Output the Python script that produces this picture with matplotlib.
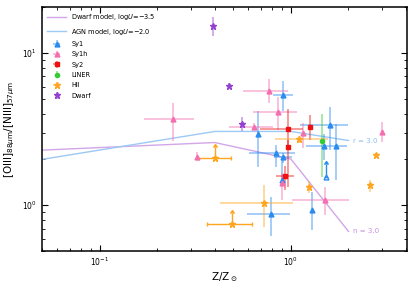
import numpy as np
import matplotlib
matplotlib.use('Agg')
import matplotlib.pyplot as plt

# model curves
model_z = [0.05, 0.4, 1.0, 2.0]
dwarf_model = [2.30, 2.58, 2.01, 0.674]
agn_model = [2.00, 3.05, 3.05, 2.66]

# Sy1
sy1_z = [0.91, 0.674, 0.832, 0.905, 0.90, 0.786, 1.29, 1.49, 1.73, 1.60]
sy1_z_lo = [0.805, 0.674, 0.603, 0.815, 0.90, 0.588, 1.29, 1.20, 1.73, 1.11]
sy1_z_hi = [1.02, 0.674, 1.05, 1.01, 0.90, 0.995, 1.29, 1.96, 1.73, 1.99]
sy1_r = [5.29, 2.93, 2.21, 2.06, 1.46, 0.882, 0.937, 2.44, 2.44, 3.36]
sy1_r_lo = [4.15, 1.78, 1.78, 1.90, 1.40, 0.625, 0.685, 1.98, 1.46, 2.30]
sy1_r_hi = [6.54, 4.15, 2.48, 2.20, 1.98, 1.13, 1.22, 2.93, 3.41, 4.41]
sy1_lim_z = [1.52]
sy1_lim_r = [1.54]

# Sy1h
sy1h_z = [0.241, 0.767, 0.855, 0.642, 1.16, 2.98, 0.90, 1.51, 0.322]
sy1h_z_lo = [0.170, 0.561, 0.633, 0.473, 1.16, 2.98, 0.90, 1.01, 0.322]
sy1h_z_hi = [0.311, 0.964, 1.075, 0.805, 1.16, 2.98, 0.90, 2.01, 0.322]
sy1h_r = [3.66, 5.65, 4.07, 3.27, 2.96, 3.04, 1.41, 1.08, 2.08]
sy1h_r_lo = [2.64, 4.69, 3.11, 3.10, 2.37, 2.60, 1.08, 0.86, 2.05]
sy1h_r_hi = [4.69, 6.75, 5.13, 3.45, 3.46, 3.52, 1.62, 1.31, 2.25]

# Sy2
sy2_z = [0.968, 1.26, 0.968, 0.93]
sy2_z_lo = [0.688, 1.26, 0.968, 0.835]
sy2_z_hi = [1.155, 1.26, 0.968, 1.037]
sy2_r = [3.16, 3.24, 2.40, 1.55]
sy2_r_lo = [2.30, 2.68, 1.31, 1.25]
sy2_r_hi = [4.28, 3.91, 2.68, 1.81]

# LINER
liner_z = [1.46]
liner_r = [2.65]
liner_r_lo = [1.53]
liner_r_hi = [3.97]

# HII
hii_z = [1.105, 2.79, 2.60, 1.24, 0.725]
hii_z_lo = [0.824, 2.79, 2.60, 1.24, 0.425]
hii_z_hi = [1.56, 2.79, 2.60, 1.24, 1.02]
hii_r = [2.71, 2.13, 1.35, 1.31, 1.04]
hii_r_lo = [2.55, 2.05, 1.22, 1.20, 0.717]
hii_r_hi = [2.85, 2.21, 1.46, 1.44, 1.35]
hii_lim_z = [0.493, 0.403]
hii_lim_z_lo = [0.363, 0.326]
hii_lim_z_hi = [0.625, 0.485]
hii_lim_r = [0.750, 2.03]

# Dwarf
dwarf_z = [0.391, 0.473, 0.554]
dwarf_r = [14.9, 6.07, 3.41]
dwarf_r_lo = [12.9, 5.85, 3.07]
dwarf_r_hi = [17.3, 6.30, 3.79]

c_sy1 = '#2b8cf0'
c_sy1h = '#f36fb0'
c_sy2 = '#ee1111'
c_liner = '#33cc33'
c_hii = '#ffa520'
c_dwarf = '#9440d0'


def err(v, lo, hi):
    v = np.array(v)
    return [v - np.array(lo), np.array(hi) - v]


fig = plt.figure(figsize=(4.15, 2.91), dpi=100)
ax = fig.add_axes([0.101, 0.137, 0.880, 0.839])

ax.plot(model_z, dwarf_model, color='#d2a6e8', lw=1.0, label=r'Dwarf model, log$U$=$-$3.5')
ax.plot(model_z, agn_model, color='#9cc9f5', lw=1.0, label=r'AGN model, log$U$=$-$2.0')

kw = dict(ls='none', elinewidth=1.2, capsize=0)

def draw(z, r, xe, ye, col, mk, ms, label):
    e = ax.errorbar(z, r, xerr=xe, yerr=ye, marker=mk, ms=ms, color=col, label=label, **kw)
    for b in e[2]:
        b.set_alpha(0.5)

draw(sy1_z, sy1_r, err(sy1_z, sy1_z_lo, sy1_z_hi), err(sy1_r, sy1_r_lo, sy1_r_hi), c_sy1, '^', 3.5, 'Sy1')
draw(sy1h_z, sy1h_r, err(sy1h_z, sy1h_z_lo, sy1h_z_hi), err(sy1h_r, sy1h_r_lo, sy1h_r_hi), c_sy1h, '^', 3.5, 'Sy1h')
draw(sy2_z, sy2_r, err(sy2_z, sy2_z_lo, sy2_z_hi), err(sy2_r, sy2_r_lo, sy2_r_hi), c_sy2, 's', 3, 'Sy2')
draw(liner_z, liner_r, None, err(liner_r, liner_r_lo, liner_r_hi), c_liner, 'o', 3, 'LINER')
draw(hii_z, hii_r, err(hii_z, hii_z_lo, hii_z_hi), err(hii_r, hii_r_lo, hii_r_hi), c_hii, '*', 4.5, 'HII')
draw(dwarf_z, dwarf_r, None, err(dwarf_r, dwarf_r_lo, dwarf_r_hi), c_dwarf, '*', 4.5, 'Dwarf')

# lower limits
lim = np.array(sy1_lim_r)
ax.errorbar(sy1_lim_z, sy1_lim_r, yerr=lim * 0.22, lolims=True, marker='^', ms=3.5,
            mfc='none', mec=c_sy1, color=c_sy1, ls='none', elinewidth=1.0, capsize=1.5)
lim = np.array(hii_lim_r)
ax.errorbar(hii_lim_z, hii_lim_r, xerr=err(hii_lim_z, hii_lim_z_lo, hii_lim_z_hi), yerr=lim * 0.18,
            lolims=True, marker='*', ms=4.5, color=c_hii, ls='none', elinewidth=1.0, capsize=1.5)

ax.text(2.1, 2.66, 'r = 3.0', color='#8fbfee', fontsize=5, va='center')
ax.text(2.1, 0.674, 'n = 3.0', color='#c88ee0', fontsize=5, va='center')

ax.set_xscale('log')
ax.set_yscale('log')
ax.set_xlim(0.05, 4.05)
ax.set_ylim(0.5, 20)
ax.tick_params(which='both', direction='in', top=True, right=True, labelsize=5.5)
ax.tick_params(which='major', length=4)
ax.tick_params(which='minor', length=2)
for s in ax.spines.values():
    s.set_linewidth(1.1)
ax.set_xlabel(r'Z/Z$_\odot$', fontsize=7.5, labelpad=1)
ax.set_ylabel(r'[OIII]$_{88\mu\mathrm{m}}$/[NIII]$_{57\mu\mathrm{m}}$', fontsize=7.5)

ax.legend(loc='upper left', frameon=False, fontsize=4.8, handlelength=2.8, labelspacing=0.65,
          borderaxespad=0.4)

fig.savefig('out.png', dpi=100)
